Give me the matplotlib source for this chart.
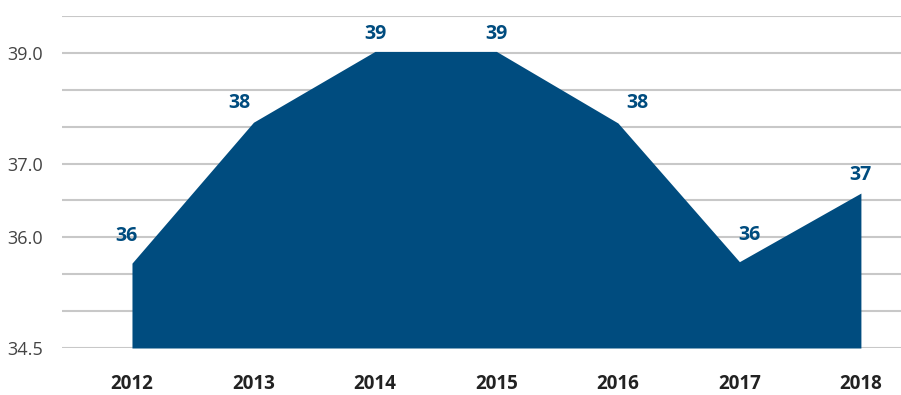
import numpy as np
import matplotlib.pyplot as plt

plt.rcParams['font.family'] = ['Open Sans', 'DejaVu Sans']

# yearly values
years = ['2012', '2013', '2014', '2015', '2016', '2017', '2018']
values = [35.65, 37.56, 38.52, 38.52, 37.55, 35.67, 36.60]

# y grid every 0.5, only a few of them labelled
yticks = np.arange(34.5, 39.01, 0.5)
ytick_labels = ['34.5', '', '', '36.0', '', '37.0', '', '', '39.0', '']

# label nudges (points) so they clear the slopes
label_dx = [-4, -10, 0, 0, 14, 7, 0]
label_dy = [12, 7, 5, 5, 7, 12, 6]

navy = '#004c7f'

fig = plt.figure(figsize=(9.01, 3.95), dpi=100)
ax = fig.add_axes([62/901, 47/395, 839/901, 332/395])

x = np.arange(len(years))
ax.fill_between(x, 34.5, values, color=navy, linewidth=0, zorder=2)

for i, v in enumerate(values):
    ax.annotate('{:.0f}'.format(v), (x[i], v), xytext=(label_dx[i], label_dy[i]),
                textcoords='offset points', ha='center', va='bottom',
                fontsize=14, fontweight='bold', color=navy, zorder=3)

ax.set_ylim(34.5, 39.0)
ax.set_xlim(-0.576, 6.33)
ax.set_yticks(yticks)
ax.set_yticklabels(ytick_labels)
ax.set_xticks(x)
ax.set_xticklabels(years, fontweight='bold', fontsize=13.5, color='#222222')
ax.yaxis.grid(True, color='#c8c8c8', linewidth=1.5, zorder=1)
ax.set_axisbelow(True)
ax.tick_params(axis='y', length=0, pad=14, labelsize=13, labelcolor='#444444')
ax.tick_params(axis='x', length=0, pad=19)
for s in ax.spines.values():
    s.set_visible(False)

plt.savefig('out.png', dpi=100)
